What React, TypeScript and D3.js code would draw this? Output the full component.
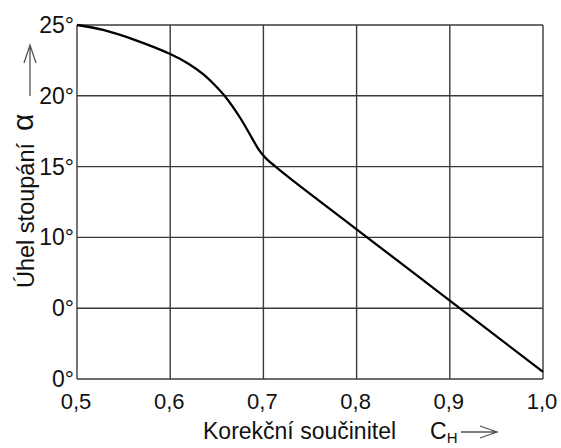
import React, { useEffect, useRef } from 'react';
import * as d3 from 'd3';

// curve: correction factor C_H vs. lead angle
const cH = [0.5, 0.528, 0.564, 0.6, 0.62, 0.636, 0.648, 0.659, 0.675, 0.687, 0.695, 0.7025, 0.713, 0.73, 0.8, 0.9, 1.0];
const alpha = [25, 24.65, 23.9, 22.95, 22.25, 21.5, 20.75, 19.95, 18.45, 17.1, 16.2, 15.6, 15.0, 14.1, 10.57, 5.54, 0.5];

const xTicks = [0.5, 0.6, 0.7, 0.8, 0.9, 1.0];
const xTickLabels = ['0,5', '0,6', '0,7', '0,8', '0,9', '1,0'];
const yTicks = [0, 5, 10, 15, 20, 25];
const yTickLabels = ['0°', '0°', '10°', '15°', '20°', '25°'];

const FONT = '"Liberation Sans", Arial, sans-serif';

/* LeadAngleChart: draws the alpha / C_H curve on a plain grid */
function LeadAngleChart({ width, height }: { width: number; height: number }) {
  const margin = { top: 25, right: 18, bottom: 69, left: 77 };
  const ref = useRef<SVGSVGElement>(null);

  useEffect(() => {
    const svg = d3.select(ref.current);
    svg.selectAll('*').remove();

    const x = d3.scaleLinear().domain([0.5, 1.0]).range([margin.left, width - margin.right]);
    const y = d3.scaleLinear().domain([0, 25]).range([height - margin.bottom, margin.top]);

    const grid = svg.append('g').attr('stroke', '#3a3a3a').attr('stroke-width', 1.4);
    grid.selectAll('line.v').data(xTicks).enter().append('line')
      .attr('x1', d => x(d)).attr('x2', d => x(d))
      .attr('y1', y(0)).attr('y2', y(25));
    grid.selectAll('line.h').data(yTicks).enter().append('line')
      .attr('y1', d => y(d)).attr('y2', d => y(d))
      .attr('x1', x(0.5)).attr('x2', x(1.0));

    // tick labels
    svg.append('g').selectAll('text').data(xTicks).enter().append('text')
      .attr('x', d => x(d) - 1).attr('y', y(0) + 30)
      .attr('text-anchor', 'middle')
      .attr('font-family', FONT).attr('font-size', 22).attr('fill', '#111')
      .text((d, i) => xTickLabels[i]);
    svg.append('g').selectAll('text').data(yTicks).enter().append('text')
      .attr('x', x(0.5) - 3).attr('y', d => y(d) + 8)
      .attr('text-anchor', 'end')
      .attr('font-family', FONT).attr('font-size', 23).attr('fill', '#111')
      .text((d, i) => yTickLabels[i]);

    // the curve
    const line = d3.line<number>()
      .x((d, i) => x(cH[i]))
      .y(d => y(d))
      .curve(d3.curveCatmullRom.alpha(0.5));
    svg.append('path')
      .attr('d', line(alpha))
      .attr('fill', 'none')
      .attr('stroke', '#000')
      .attr('stroke-width', 2.3);

    // x axis title with arrow
    const xt = svg.append('text')
      .attr('x', 203).attr('y', 439)
      .attr('font-family', FONT).attr('font-size', 23).attr('fill', '#111');
    xt.append('tspan').text('Korekční součinitel');
    xt.append('tspan').attr('x', 430).text('C');
    xt.append('tspan').attr('dy', 4).attr('font-size', 15).text('H');
    const arrows = svg.append('g').attr('stroke', '#555').attr('stroke-width', 1.3).attr('fill', 'none');
    arrows.append('path').attr('d', 'M461,432 H497 M480,426 L497,432 L480,438');

    // y axis title with arrow
    svg.append('text')
      .attr('transform', 'translate(34,288) rotate(-90)')
      .attr('font-family', FONT).attr('font-size', 23.5).attr('fill', '#111')
      .text('Úhel stoupání');
    svg.append('text')
      .attr('transform', 'translate(33,131) rotate(-90)')
      .attr('font-family', FONT).attr('font-size', 30).attr('fill', '#111')
      .text('α');
    arrows.append('path').attr('d', 'M30,96 V45 M24,63 L30,45 L36,63');
  }, [width, height]);

  return (
    <svg ref={ref} width={width} height={height}
      style={{ position: 'absolute', left: 0, top: 0, background: '#fff' }} />
  );
}

export default function App() {
  return <LeadAngleChart width={561} height={448} />;
}
